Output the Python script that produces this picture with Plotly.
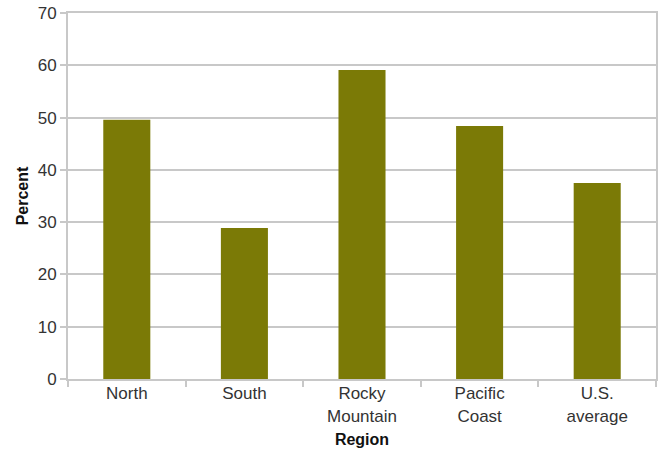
import plotly.graph_objects as go

categories = ["North", "South", "Rocky<br>Mountain", "Pacific<br>Coast", "U.S.<br>average"]
percent = [49.6, 28.9, 59.1, 48.4, 37.5]

bar_color = "#7b7a06"
grid_color = "#c8c8c8"
text_color = "#333333"

fig = go.Figure(
    go.Bar(x=categories, y=percent, marker=dict(color=bar_color, line=dict(width=0)))
)

fig.update_layout(
    width=661,
    height=451,
    margin=dict(l=68, r=5, t=13, b=72, autoexpand=False),
    paper_bgcolor="white",
    plot_bgcolor="white",
    bargap=0.6,
    showlegend=False,
    font=dict(family="Liberation Sans, Arial, sans-serif", color=text_color, size=17),
)

fig.update_xaxes(
    title=dict(text="<b>Region</b>", font=dict(size=16, color="#111111"), standoff=9),
    automargin=False,
    showline=True,
    linecolor=grid_color,
    linewidth=2,
    mirror=True,
    ticks="outside",
    tickson="boundaries",
    ticklen=6,
    tickcolor=grid_color,
    tickwidth=2,
    ticklabelstandoff=-2,
    tickfont=dict(size=17, color=text_color),
)

fig.update_yaxes(
    title=dict(text="<b>Percent</b>", font=dict(size=16, color="#111111"), standoff=5),
    automargin=False,
    range=[0, 70],
    dtick=10,
    showgrid=True,
    gridcolor=grid_color,
    gridwidth=2,
    showline=True,
    linecolor=grid_color,
    linewidth=2,
    mirror=True,
    ticks="outside",
    ticklen=6,
    tickcolor=grid_color,
    tickwidth=2,
    zeroline=False,
    tickfont=dict(size=17, color=text_color),
)

fig.write_html(
    "out.html",
    config={"displayModeBar": False},
    post_script="document.body.style.margin='0';document.body.style.overflow='hidden';",
)
